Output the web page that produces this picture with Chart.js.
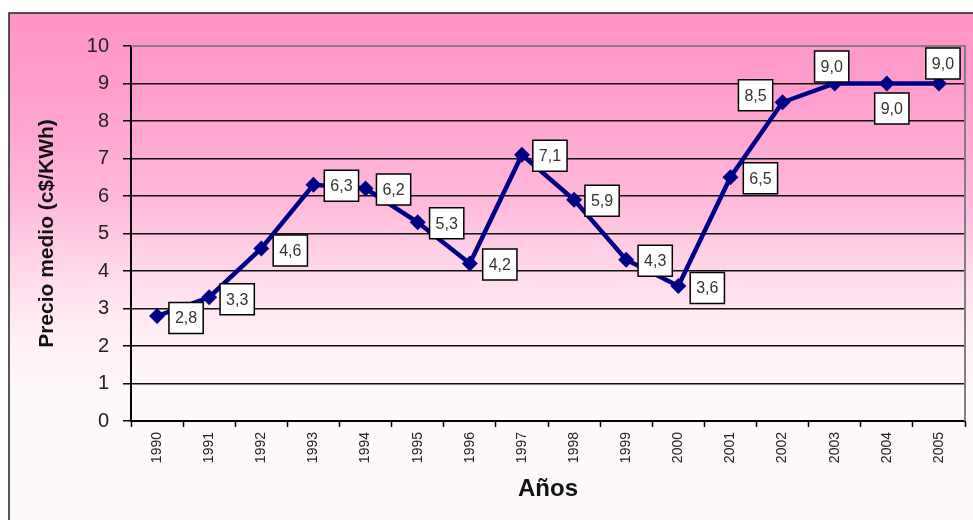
<!DOCTYPE html>
<html>
<head>
<meta charset="utf-8">
<script src="https://cdn.jsdelivr.net/npm/chart.js@4.4.1/dist/chart.umd.min.js"></script>
<style>
  html, body { margin: 0; padding: 0; background: #ffffff; }
  #grafico { display: block; }
</style>
</head>
<body>
<canvas id="grafico" width="973" height="520"></canvas>
<script>
// Datos del gráfico
const anios = ['1990', '1991', '1992', '1993', '1994', '1995', '1996', '1997',
               '1998', '1999', '2000', '2001', '2002', '2003', '2004', '2005'];
const precioMedio = [2.8, 3.3, 4.6, 6.3, 6.2, 5.3, 4.2, 7.1, 5.9, 4.3, 3.6, 6.5, 8.5, 9.0, 9.0, 9.0];
const ticksY = [0, 1, 2, 3, 4, 5, 6, 7, 8, 9, 10];

// Desplazamiento de cada etiqueta respecto a su punto (px)
const desplazEtiquetas = [
    [29, 2], [28, 2], [29, 2], [28, 1], [28, 1], [29, 1], [30, 1], [28, 1],
    [28, 1], [29, 1], [29, 2], [30, 1], [-27, -7], [-3, -17], [5, 25], [4, -20]
];

const fuente = "'Liberation Sans', Arial, sans-serif";

// Fondo degradado rosa y marco exterior
const fondoPlugin = {
    id: 'fondo',
    beforeDraw(chart) {
        const ctx = chart.ctx;
        ctx.save();
        ctx.fillStyle = '#ffffff';
        ctx.fillRect(0, 0, chart.width, chart.height);
        const grad = ctx.createLinearGradient(0, 13, 0, 400);
        grad.addColorStop(0, '#ff94c6');
        grad.addColorStop(0.22, '#ff9fcd');
        grad.addColorStop(0.48, '#ffb8da');
        grad.addColorStop(0.69, '#ffdcec');
        grad.addColorStop(0.845, '#fff0f6');
        grad.addColorStop(1, '#fdf8fc');
        ctx.fillStyle = grad;
        ctx.fillRect(9, 13, chart.width, chart.height);
        ctx.strokeStyle = '#222222';
        ctx.lineWidth = 1.5;
        ctx.strokeRect(9, 13, chart.width + 10, chart.height + 10);
        ctx.restore();
    },
    beforeDatasetsDraw(chart) {
        const {ctx, chartArea} = chart;
        ctx.save();
        ctx.strokeStyle = '#808080';
        ctx.lineWidth = 2;
        ctx.beginPath();
        ctx.moveTo(chartArea.left, chartArea.top);
        ctx.lineTo(chartArea.right, chartArea.top);
        ctx.lineTo(chartArea.right, chartArea.bottom);
        ctx.stroke();
        ctx.restore();
    }
};

// Etiquetas de valores en cajas blancas
const etiquetasPlugin = {
    id: 'etiquetas',
    afterDraw(chart) {
        const ctx = chart.ctx;
        const meta = chart.getDatasetMeta(0);
        ctx.save();
        ctx.font = '16px ' + fuente;
        ctx.textAlign = 'center';
        ctx.textBaseline = 'middle';
        meta.data.forEach((pt, i) => {
            const texto = precioMedio[i].toFixed(1).replace('.', ',');
            const cx = pt.x + desplazEtiquetas[i][0];
            const cy = pt.y + desplazEtiquetas[i][1];
            const w = ctx.measureText(texto).width + 12;
            const h = 31;
            ctx.fillStyle = '#ffffff';
            ctx.fillRect(cx - w / 2, cy - h / 2, w, h);
            ctx.strokeStyle = '#000000';
            ctx.lineWidth = 1.5;
            ctx.strokeRect(cx - w / 2, cy - h / 2, w, h);
            ctx.fillStyle = '#333333';
            ctx.fillText(texto, cx, cy + 1);
        });
        ctx.restore();
    }
};

new Chart(document.getElementById('grafico'), {
    type: 'line',
    data: {
        labels: anios,
        datasets: [{
            data: precioMedio,
            borderColor: '#000085',
            backgroundColor: '#000085',
            borderWidth: 4.5,
            pointStyle: 'rectRot',
            pointRadius: 8,
            pointBorderWidth: 0,
            tension: 0,
            fill: false
        }]
    },
    options: {
        responsive: false,
        animation: false,
        layout: { padding: { top: 46, right: 6, left: 0, bottom: 0 } },
        plugins: {
            legend: { display: false },
            tooltip: { enabled: false }
        },
        scales: {
            x: {
                offset: true,
                afterFit: scale => { scale.height = 99; },
                grid: {
                    offset: true,
                    drawOnChartArea: false,
                    drawTicks: true,
                    tickLength: 6,
                    tickColor: '#000000',
                    tickWidth: 1.5
                },
                border: { display: true, color: '#000000', width: 2 },
                ticks: {
                    color: '#222222',
                    font: { family: fuente, size: 14 },
                    minRotation: 90,
                    maxRotation: 90,
                    padding: 5,
                    autoSkip: false
                },
                title: {
                    display: true,
                    text: 'Años',
                    color: '#111111',
                    font: { family: fuente, size: 24, weight: 'bold' },
                    padding: { top: 0, bottom: 16 }
                }
            },
            y: {
                min: 0,
                max: 10,
                afterFit: scale => { scale.width = 131; },
                afterBuildTicks: scale => {
                    scale.ticks = ticksY.map(v => ({ value: v }));
                },
                grid: {
                    color: ctx => (ctx.tick && ctx.tick.value === 10 ? '#808080' : '#111111'),
                    lineWidth: 1.5,
                    tickLength: 8,
                    tickColor: '#000000',
                    tickWidth: 1.5
                },
                border: { display: true, color: '#000000', width: 2 },
                ticks: {
                    color: '#222222',
                    font: { family: fuente, size: 20 },
                    padding: 14
                },
                title: {
                    display: true,
                    text: 'Precio medio (c$/KWh)',
                    color: '#111111',
                    font: { family: fuente, size: 21, weight: 'bold' },
                    padding: { top: 35, bottom: 0 }
                }
            }
        }
    },
    plugins: [fondoPlugin, etiquetasPlugin]
});
</script>
</body>
</html>
